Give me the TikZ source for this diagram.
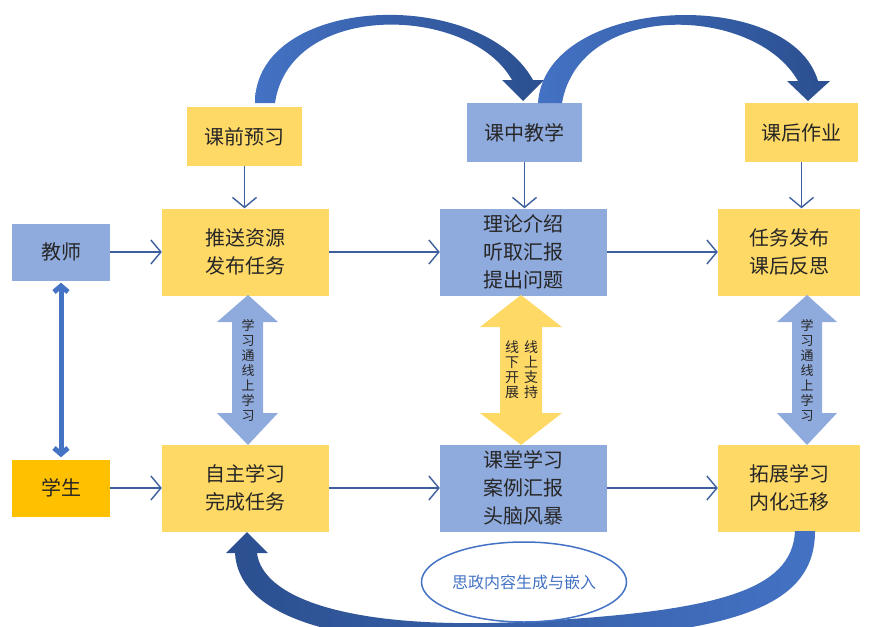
\documentclass[tikz,border=0pt]{standalone}
\usepackage{fontspec}
\newfontfamily\cjk{Noto Sans CJK SC}
\usetikzlibrary{arrows.meta, shapes.geometric}

\definecolor{boxyellow}{HTML}{FFD966}
\definecolor{boxblue}{HTML}{8FAADC}
\definecolor{boxgold}{HTML}{FFC000}
\definecolor{linkblue}{HTML}{3E5F9E}
\definecolor{curvelight}{HTML}{4472C4}
\definecolor{curvedark}{HTML}{2B4F8F}
\definecolor{textdark}{HTML}{262626}

\tikzset{
  stage/.style={minimum width=115pt, minimum height=59pt, inner sep=0pt,
    font=\cjk\fontsize{20}{28}\selectfont, text=textdark},
  block/.style={minimum width=167pt, minimum height=87pt, inner sep=0pt, align=center,
    font=\cjk\fontsize{20}{28}\selectfont, text=textdark},
  role/.style={minimum width=98pt, minimum height=57pt, inner sep=0pt,
    font=\cjk\fontsize{20}{28}\selectfont, text=textdark},
  flow/.style={draw=linkblue, line width=1.4pt, -{Straight Barb[length=10pt,width=24pt]}},
  tagtext/.style={font=\cjk\fontsize{13}{15}\selectfont, align=center, inner sep=0pt, text=textdark},
}

\begin{document}
\begin{tikzpicture}[x=1pt, y=-1pt]
    \useasboundingbox (0,0) rectangle (877,626);

    % stages on top
    \node[stage, fill=boxyellow] (pre)  at (244.5,136.5) {课前预习};
    \node[stage, fill=boxblue]   (mid)  at (524.5,132.5) {课中教学};
    \node[stage, fill=boxyellow, minimum width=113pt] (post) at (801.5,132.5) {课后作业};

    % teacher row
    \node[role, fill=boxblue] (teacher) at (61,252) {教师};
    \node[block, fill=boxyellow] (push)   at (245.5,252) {推送资源\\发布任务};
    \node[block, fill=boxblue]   (theory) at (523.5,252) {理论介绍\\听取汇报\\提出问题};
    \node[block, fill=boxyellow, minimum width=142pt] (task) at (789,252) {任务发布\\课后反思};

    % student row
    \node[role, fill=boxgold] (student) at (61,488) {学生};
    \node[block, fill=boxyellow] (self)   at (245.5,488) {自主学习\\完成任务};
    \node[block, fill=boxblue]   (class)  at (523.5,488) {课堂学习\\案例汇报\\头脑风暴};
    \node[block, fill=boxyellow, minimum width=142pt] (expand) at (789,488) {拓展学习\\内化迁移};

    % thin arrows
    \draw[flow] (pre.south)  -- (pre.south |- push.north);
    \draw[flow] (mid.south)  -- (mid.south |- theory.north);
    \draw[flow] (post.south) -- (post.south |- task.north);
    \draw[flow] (teacher) -- (push);
    \draw[flow] (push) -- (theory);
    \draw[flow] (theory) -- (task);
    \draw[flow] (student) -- (self);
    \draw[flow] (self) -- (class);
    \draw[flow] (class) -- (expand);

    % teacher <-> student
    \draw[draw=curvelight, line width=5pt,
      {Straight Barb[length=6pt,width=14pt]}-{Straight Barb[length=6pt,width=14pt]}]
      ([yshift=-2pt]teacher.south) -- ([yshift=2pt]student.north);

    % fat double arrows
    \fill[boxblue] (248,295) -- (278,322) -- (263,322) -- (263,413) -- (278,413) -- (248,445)
      -- (217,413) -- (232,413) -- (232,322) -- (217,322) -- cycle;
    \node[tagtext] (onlineA) at (248,370) {学\\习\\通\\线\\上\\学\\习};
    \fill[boxyellow] (521,295) -- (562,327) -- (542,327) -- (542,413) -- (562,413) -- (521,445)
      -- (480,413) -- (500,413) -- (500,327) -- (480,327) -- cycle;
    \node[tagtext, font=\cjk\fontsize{14}{15}\selectfont] (offline) at (512,370) {线\\下\\开\\展};
    \node[tagtext, font=\cjk\fontsize{14}{15}\selectfont] (support) at (531,370) {线\\上\\支\\持};
    \fill[boxblue] (807,295) -- (837,322) -- (822,322) -- (822,413) -- (837,413) -- (807,445)
      -- (777,413) -- (792,413) -- (792,322) -- (777,322) -- cycle;
    \node[tagtext] (onlineB) at (807,370) {学\\习\\通\\线\\上\\学\\习};

    % curved arrows on top
    \shade[left color=curvelight, right color=curvedark]
      (255,103) .. controls (255,-5) and (480,-15) .. (533,80) -- (544,80) -- (523,101)
      -- (502,80) -- (512,80) .. controls (470,5) and (290,0) .. (275,103) -- cycle;
    \shade[left color=curvelight, right color=curvedark]
      (538,103) .. controls (545,-5) and (790,-15) .. (818,81) -- (830,81) -- (808,101)
      -- (787,81) -- (798,81) .. controls (755,5) and (580,0) .. (562,103) -- cycle;

    % curved arrow at the bottom
    \begin{scope}
      \clip (0,0) rectangle (877,626);
      \shade[left color=curvedark, right color=curvelight]
        (795,531) .. controls (792,590) and (720,612) .. (520,622)
        .. controls (340,630) and (262,595) .. (257,553) -- (268,553) -- (247,532)
        -- (226,553) -- (235,553) .. controls (238,610) and (320,650) .. (520,642)
        .. controls (740,635) and (815,605) .. (815,531) -- cycle;
    \end{scope}

    \node[draw=curvelight, line width=1.5pt, ellipse, inner sep=0pt, minimum width=205pt,
      minimum height=80pt, font=\cjk\fontsize{16}{20}\selectfont, text=curvelight] (ideo)
      at (524,582) {思政内容生成与嵌入};
\end{tikzpicture}
\end{document}
